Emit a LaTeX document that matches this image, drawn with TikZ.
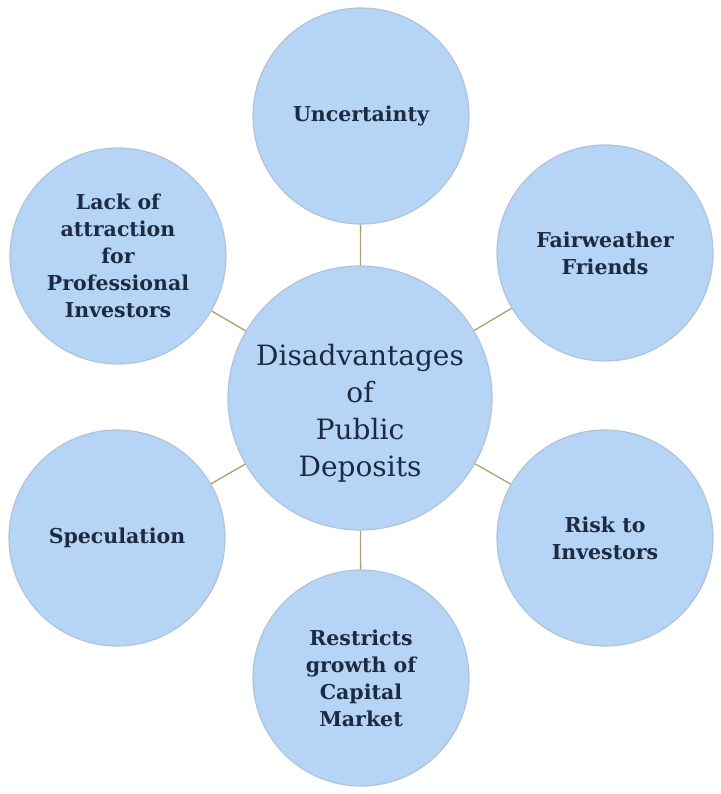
\documentclass[tikz,border=0pt]{standalone}
\usepackage{fontspec}
\setmainfont{DejaVu Serif}
\usetikzlibrary{positioning}

\definecolor{bubblefill}{HTML}{B6D4F5}
\definecolor{bubbleline}{HTML}{AFC4DA}
\definecolor{inkblue}{HTML}{1C2B42}
\definecolor{linktan}{HTML}{B39C6E}

\begin{document}
\begin{tikzpicture}[
  x=1pt, y=-1pt,
  hub/.style={circle, draw=bubbleline, line width=1.2pt, fill=bubblefill,
              minimum size=264pt, inner sep=0pt},
  hubtext/.style={align=center, text=inkblue, yshift=-15pt,
                  font=\fontsize{28}{37}\selectfont},
  spoke/.style={circle, draw=bubbleline, line width=1.2pt, fill=bubblefill,
                minimum size=216pt, inner sep=0pt, align=center,
                text=inkblue, font=\fontsize{20.5}{27}\selectfont\bfseries},
  link/.style={draw=linktan, line width=1.3pt},
]

% ---- Rahmen ----
\useasboundingbox (0,0) rectangle (720,794);

% ---- Zentrum ----
\node[hub, label={[hubtext]center:{Disadvantages\\of\\Public\\Deposits}}]
  (hub) at (360,398) {};

% ---- Nachteile ----
\node[spoke] (uncert)   at (361,116) {Uncertainty};
\node[spoke] (fair)     at (605,253) {Fairweather\\Friends};
\node[spoke] (risk)     at (605,538) {Risk to\\Investors};
\node[spoke] (restrict) at (361,678) {Restricts\\growth of\\Capital\\Market};
\node[spoke] (spec)     at (117,538) {Speculation};
\node[spoke] (lack)     at (118,256) {Lack of\\attraction\\for\\Professional\\Investors};

% ---- Verbindungen ----
\foreach \s in {uncert,fair,risk,restrict,spec,lack}
  \draw[link] (hub) -- (\s);

\end{tikzpicture}
\end{document}
